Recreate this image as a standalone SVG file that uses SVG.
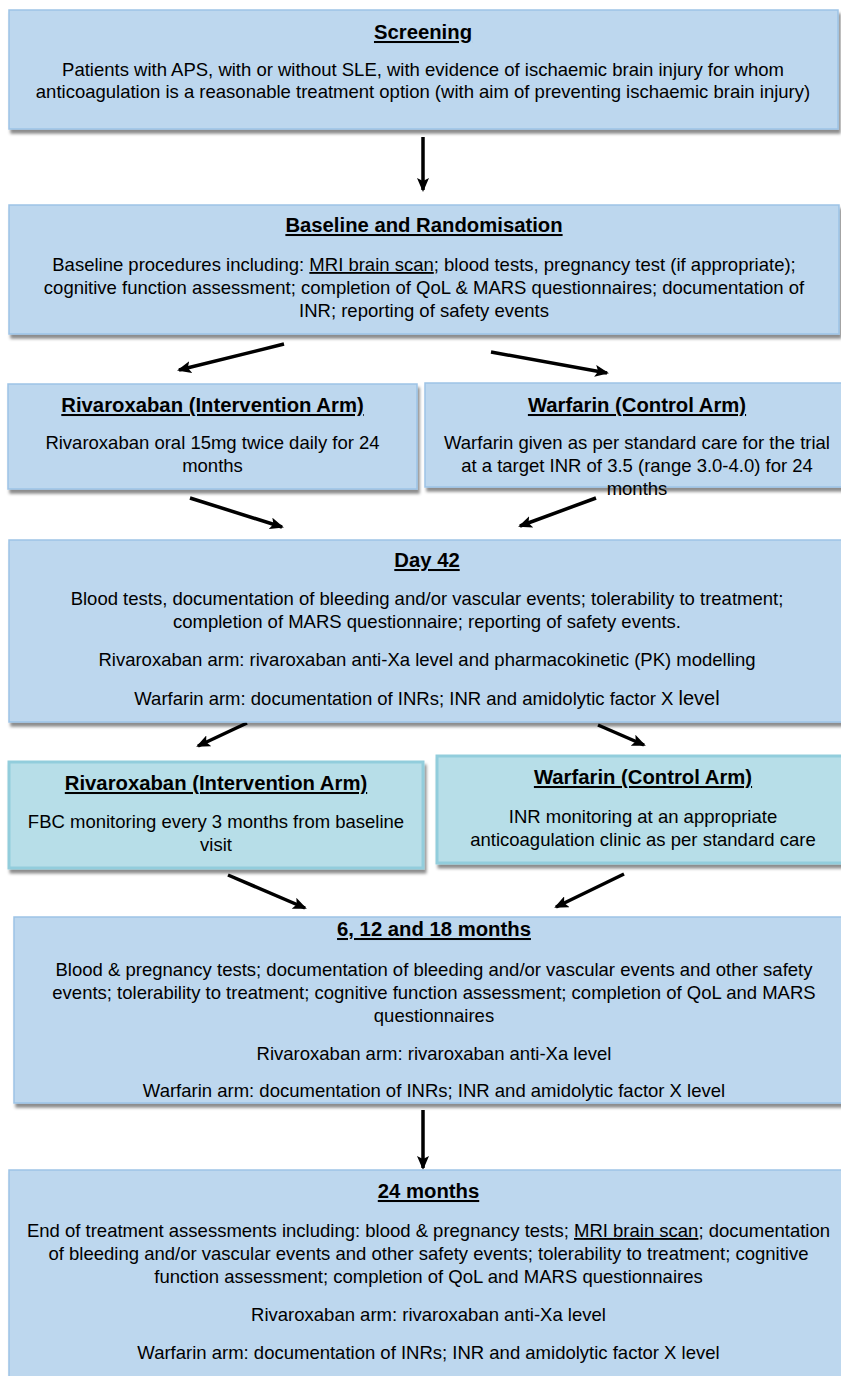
<svg xmlns="http://www.w3.org/2000/svg" width="841" height="1376" viewBox="0 0 841 1376">
<style>
  .box { fill: #bdd7ee; stroke: #9dc3e6; stroke-width: 1.5; filter: url(#shadow); }
  .tbox { fill: #b7dee8; stroke: #92cddc; stroke-width: 3; filter: url(#shadow); }
  text { font-family: "Liberation Sans", Arial, sans-serif; fill: #000; text-anchor: middle; }
  .t { font-size: 20.3px; font-weight: bold; text-decoration: underline; }
  .b { font-size: 18.5px; }
  .u { text-decoration: underline; }
  .conn line { stroke: #000; stroke-width: 3.5; marker-end: url(#ah); }
</style>
<defs>
  <filter id="shadow" x="-5%" y="-10%" width="115%" height="130%">
    <feDropShadow dx="2" dy="4" stdDeviation="1.8" flood-color="#000" flood-opacity="0.45"/>
  </filter>
  <marker id="ah" markerUnits="userSpaceOnUse" markerWidth="14" markerHeight="12" refX="12" refY="6" orient="auto">
    <path d="M0,0 L14,6 L0,12 L3,6 Z" fill="#000"/>
  </marker>
</defs>
<rect width="841" height="1376" fill="#fff"/>

<g class="conn">
  <line x1="423" y1="137" x2="423" y2="190"/>
  <line x1="284" y1="344" x2="179" y2="370"/>
  <line x1="491" y1="352" x2="607" y2="373"/>
  <line x1="190" y1="498" x2="282" y2="527"/>
  <line x1="596" y1="498" x2="520" y2="526"/>
  <line x1="247" y1="723" x2="198" y2="746"/>
  <line x1="598" y1="725" x2="644" y2="745"/>
  <line x1="228" y1="875" x2="305" y2="908"/>
  <line x1="624" y1="874" x2="556" y2="907"/>
  <line x1="423" y1="1110" x2="423" y2="1168"/>
</g>

<g id="screening">
  <rect class="box" x="9" y="10" width="829" height="119"/>
  <text class="t" x="423" y="39">Screening</text>
  <text class="b" x="423" y="76">Patients with APS, with or without SLE, with evidence of ischaemic brain injury for whom</text>
  <text class="b" x="423" y="98">anticoagulation is a reasonable treatment option (with aim of preventing ischaemic brain injury)</text>
</g>

<g id="baseline">
  <rect class="box" x="9" y="205" width="830" height="129"/>
  <text class="t" x="424" y="232">Baseline and Randomisation</text>
  <text class="b" x="424" y="271">Baseline procedures including: <tspan class="u">MRI brain scan</tspan>; blood tests, pregnancy test (if appropriate);</text>
  <text class="b" x="424" y="294">cognitive function assessment; completion of QoL &amp; MARS questionnaires; documentation of</text>
  <text class="b" x="424" y="317">INR; reporting of safety events</text>
</g>

<g id="rivaroxaban1">
  <rect class="box" x="8" y="384" width="409" height="105"/>
  <text class="t" x="212.5" y="412">Rivaroxaban (Intervention Arm)</text>
  <text class="b" x="212.5" y="449">Rivaroxaban oral 15mg twice daily for 24</text>
  <text class="b" x="212.5" y="472">months</text>
</g>

<g id="warfarin1">
  <rect class="box" x="425" y="383" width="424" height="104"/>
  <text class="t" x="637" y="412">Warfarin (Control Arm)</text>
  <text class="b" x="637" y="449">Warfarin given as per standard care for the trial</text>
  <text class="b" x="637" y="472">at a target INR of 3.5 (range 3.0-4.0) for 24</text>
  <text class="b" x="637" y="495">months</text>
</g>

<g id="day42">
  <rect class="box" x="9" y="540" width="840" height="182"/>
  <text class="t" x="427" y="567">Day 42</text>
  <text class="b" x="427" y="605">Blood tests, documentation of bleeding and/or vascular events; tolerability to treatment;</text>
  <text class="b" x="427" y="628">completion of MARS questionnaire; reporting of safety events.</text>
  <text class="b" x="427" y="666">Rivaroxaban arm: rivaroxaban anti-Xa level and pharmacokinetic (PK) modelling</text>
  <text class="b" x="427" y="705">Warfarin arm: documentation of INRs; INR and amidolytic factor X <tspan style="font-size:20px">level</tspan></text>
</g>

<g id="rivaroxaban2">
  <rect class="tbox" x="9" y="762" width="414" height="106"/>
  <text class="t" x="216" y="790">Rivaroxaban (Intervention Arm)</text>
  <text class="b" x="216" y="828">FBC monitoring every 3 months from baseline</text>
  <text class="b" x="216" y="851">visit</text>
</g>

<g id="warfarin2">
  <rect class="tbox" x="437" y="756" width="412" height="107"/>
  <text class="t" x="643" y="784">Warfarin (Control Arm)</text>
  <text class="b" x="643" y="823">INR monitoring at an appropriate</text>
  <text class="b" x="643" y="846">anticoagulation clinic as per standard care</text>
</g>

<g id="months6-12-18">
  <rect class="box" x="14" y="917" width="835" height="186"/>
  <text class="t" x="434" y="936">6, 12 and 18 months</text>
  <text class="b" x="434" y="976">Blood &amp; pregnancy tests; documentation of bleeding and/or vascular events and other safety</text>
  <text class="b" x="434" y="999">events; tolerability to treatment; cognitive function assessment; completion of QoL and MARS</text>
  <text class="b" x="434" y="1022">questionnaires</text>
  <text class="b" x="434" y="1060">Rivaroxaban arm: rivaroxaban anti-Xa level</text>
  <text class="b" x="434" y="1097">Warfarin arm: documentation of INRs; INR and amidolytic factor X level</text>
</g>

<g id="months24">
  <rect class="box" x="9" y="1170" width="840" height="220"/>
  <text class="t" x="428.5" y="1198">24 months</text>
  <text class="b" x="428.5" y="1237">End of treatment assessments including: blood &amp; pregnancy tests; <tspan class="u">MRI brain scan</tspan>; documentation</text>
  <text class="b" x="428.5" y="1260">of bleeding and/or vascular events and other safety events; tolerability to treatment; cognitive</text>
  <text class="b" x="428.5" y="1283">function assessment; completion of QoL and MARS questionnaires</text>
  <text class="b" x="428.5" y="1321">Rivaroxaban arm: rivaroxaban anti-Xa level</text>
  <text class="b" x="428.5" y="1359">Warfarin arm: documentation of INRs; INR and amidolytic factor X level</text>
</g>
</svg>
